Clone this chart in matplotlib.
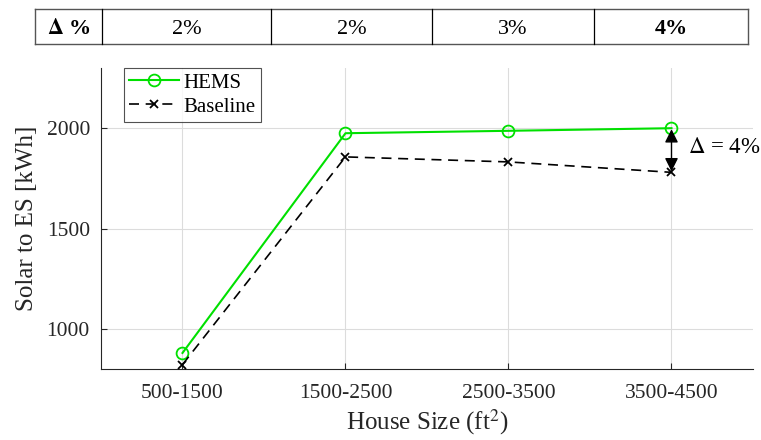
import matplotlib
matplotlib.use("Agg")
import matplotlib.pyplot as plt
from matplotlib.lines import Line2D

plt.rcParams['font.family'] = ['Liberation Serif', 'DejaVu Serif']
plt.rcParams['mathtext.fontset'] = 'stix'

categories = ['500-1500', '1500-2500', '2500-3500', '3500-4500']
hems = [880, 1975, 1987, 2000]
baseline = [822, 1857, 1832, 1780]
delta_labels = ['2%', '2%', '3%', '4%']
yticks = [1000, 1500, 2000]

fig = plt.figure(figsize=(7.61, 4.40), dpi=100)
W, H = 761, 440
ax = fig.add_axes([101 / W, 1 - 369 / H, (753 - 101) / W, (369 - 68) / H])

x = list(range(1, len(categories) + 1))
ax.plot(x, hems, color='#00e000', lw=1.5, marker='o', ms=8.5, mfc='none',
        mec='#00e000', mew=1.3, label='HEMS', zorder=3)
ax.plot(x, baseline, color='black', lw=1.2, ls=(0, (6, 4)), marker='x', ms=6,
        mew=1.3, label='Baseline', zorder=3)

ax.set_xlim(0.5, 4.5)
ax.set_ylim(800, 2300)
ax.set_xticks(x)
ax.set_xticklabels(categories)
ax.set_yticks(yticks)
ax.tick_params(direction='in', labelsize=15.5, colors='#262626', length=4, pad=8)
ax.tick_params(axis='x', pad=11)
ax.grid(True, color='#dcdcdc', lw=0.8)
ax.set_axisbelow(True)
for s in ['top', 'right']:
    ax.spines[s].set_visible(False)
for s in ['left', 'bottom']:
    ax.spines[s].set_color('#262626')
ax.set_xlabel('House Size (ft$^2$)', fontsize=18, color='#262626', labelpad=3)
ax.set_ylabel('Solar to ES [kWh]', fontsize=18, color='#262626', labelpad=6)

leg = ax.legend(loc='upper left', bbox_to_anchor=(0.035, 1.0), fontsize=15,
                frameon=True, fancybox=False, edgecolor='#262626',
                handlelength=2.4, borderpad=0.25, labelspacing=0.2,
                handletextpad=0.2, borderaxespad=0)
leg.get_frame().set_linewidth(0.8)

# delta annotation
ax.annotate('', xy=(4, hems[3] - 5), xytext=(4, baseline[3] + 5),
            arrowprops=dict(arrowstyle='<|-|>', color='black', lw=1.0,
                            mutation_scale=20, shrinkA=0, shrinkB=0))
ax.text(4.1, (hems[3] + baseline[3]) / 2 + 15, '$\\Delta$ = 4%', fontsize=16.5,
        va='center', ha='left', color='black')

# top table
tl, tr, tt, tb = 35 / W, 748 / W, 1 - 9 / H, 1 - 44 / H
vlines = [102, 271, 432, 594]
fig.add_artist(Line2D([tl, tr], [tt, tt], color='#555555', lw=1.0))
fig.add_artist(Line2D([tl, tr], [tb, tb], color='#555555', lw=1.0))
fig.add_artist(Line2D([tl, tl], [tb, tt], color='#555555', lw=1.0))
fig.add_artist(Line2D([tr, tr], [tb, tt], color='#555555', lw=1.0))
for v in vlines:
    fig.add_artist(Line2D([v / W, v / W], [tb, tt], color='black', lw=0.9))
edges = [35] + vlines + [748]
ymid = 1 - 27 / H
fig.text((edges[0] + edges[1]) / 2 / W, ymid, '$\\mathbf{\\Delta}$ %',
         fontsize=16, fontweight='bold', ha='center', va='center_baseline')
for i, lab in enumerate(delta_labels):
    cx = (edges[i + 1] + edges[i + 2]) / 2 / W
    fig.text(cx, ymid, lab, fontsize=16, ha='center', va='center_baseline',
             fontweight='bold' if i == len(delta_labels) - 1 else 'normal')

fig.savefig('out.png', dpi=100)
